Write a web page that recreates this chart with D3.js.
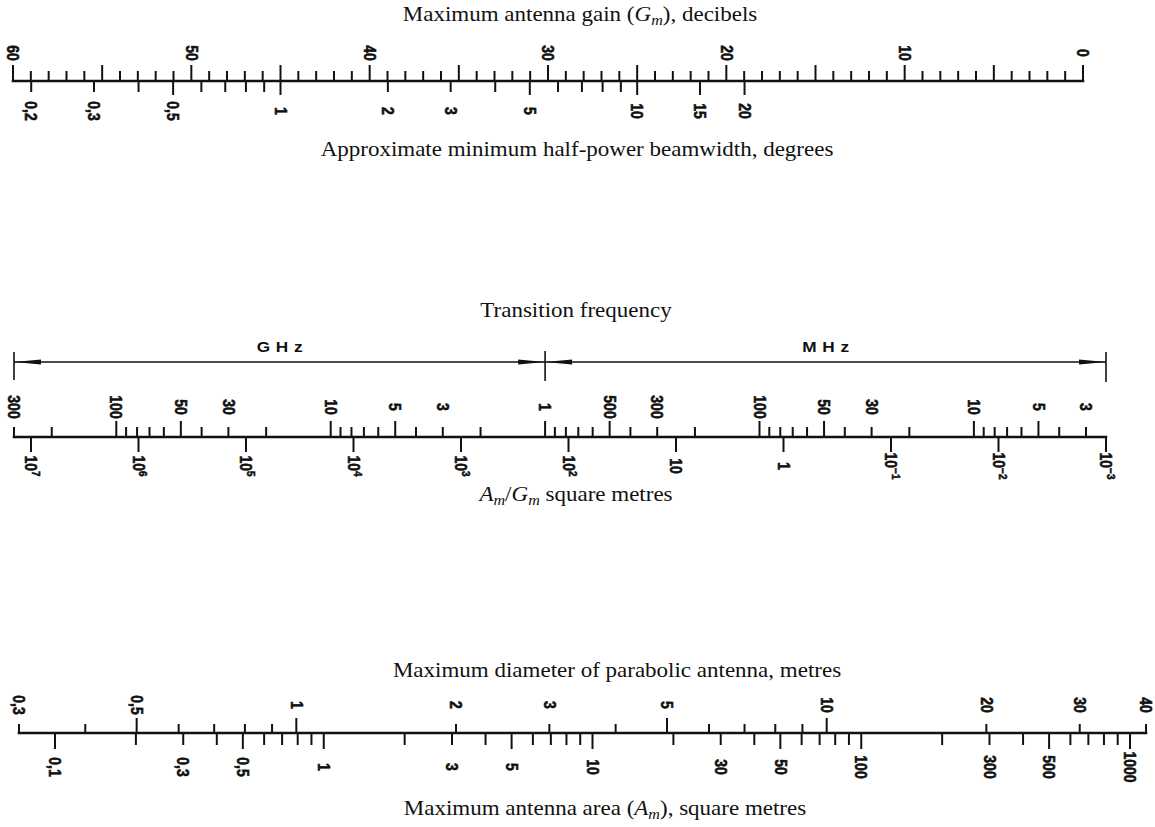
<!DOCTYPE html>
<html>
<head>
<meta charset="utf-8">
<script src="https://cdn.jsdelivr.net/npm/d3@7"></script>
<style>
  html, body { margin: 0; padding: 0; background: #fff; }
  svg { display: block; }
  .title { font-family: "Liberation Serif", "Times New Roman", serif; font-size: 20px; fill: #111; }
  .num { font-family: "Liberation Sans", Arial, sans-serif; font-weight: bold; font-size: 14px; fill: #111;
         stroke: #111; stroke-width: 0.5px; }
  .unit { font-family: "Liberation Sans", Arial, sans-serif; font-weight: bold; font-size: 15px; fill: #111; letter-spacing: 5px; }
</style>
</head>
<body>
<script>
// ---- Scale 1: maximum antenna gain (dB) against half-power beamwidth (degrees)
const gainLabels = [60, 50, 40, 30, 20, 10, 0];
const gainMajorStep = 5;
const beamTicks = [0.2, 0.3, 0.4, 0.5, 0.6, 0.7, 0.8, 0.9, 1, 2, 3, 4, 5, 6, 7, 8, 9, 10, 15, 20];
const beamLong = [0.5, 1, 5, 10, 15, 20];
const beamLabels = [0.2, 0.3, 0.5, 1, 2, 3, 5, 10, 15, 20];
const beamGainAt1deg = 45;   // G = 45 - 20 log10(beamwidth)

// ---- Scale 2: transition frequency (MHz) against Am/Gm (m^2)
const freqMultipliers = [1, 2, 3, 4, 5, 6, 7, 8, 9];
const freqDecades = [100000, 10000, 1000, 100, 10, 1];
const freqLong = [1, 5];
const freqLabels = [300000, 100000, 50000, 30000, 10000, 5000, 3000, 1000,
                    500, 300, 100, 50, 30, 10, 5, 3];
const ratioExponents = [7, 6, 5, 4, 3, 2, 1, 0, -1, -2, -3];

// ---- Scale 3: parabolic antenna diameter (m) against antenna area (m^2)
const diameterTicks = [0.3, 0.4, 0.5, 0.6, 0.7, 0.8, 0.9, 1, 2, 3, 4, 5, 6, 7, 8, 9, 10, 20, 30, 40];
const diameterLong = [0.5, 1, 5, 10];
const diameterLabels = [0.3, 0.5, 1, 2, 3, 5, 10, 20, 30, 40];
const areaMultipliers = [1, 2, 3, 4, 5, 6, 7, 8, 9];
const areaDecades = [0.1, 1, 10, 100];
const areaLong = [1, 5];
const areaLabels = [0.1, 0.3, 0.5, 1, 3, 5, 10, 30, 50, 100, 300, 500, 1000];

const W = 1155, H = 827;
const SX = 1.15;            // horizontal stretch of the printed lettering

const svg = d3.select("body").append("svg")
  .attr("width", W).attr("height", H)
  .attr("viewBox", `0 0 ${W} ${H}`);

const ink = "#111";
const fmt = v => String(v).replace(".", ",");
const near = (a, b) => Math.abs(a - b) < 1e-9 * Math.max(1, Math.abs(b));

function title(cx, y, parts) {
  const t = svg.append("text").attr("class", "title")
    .attr("text-anchor", "middle")
    .attr("transform", `translate(${cx},${y}) scale(${SX},1)`);
  parts.forEach(p => {
    const s = t.append("tspan").text(p.t);
    if (p.i) s.attr("font-style", "italic");
    if (p.sub) s.attr("font-size", "14px").attr("dy", 4);
    if (p.up) s.attr("dy", -4);
  });
  return t;
}

// rotated numeric label, centred at (x, yc), reading downwards
function vlabel(x, yc, parts) {
  const t = svg.append("text").attr("class", "num")
    .attr("text-anchor", "middle")
    .attr("dy", "0.36em")
    .attr("transform", `translate(${x},${yc}) scale(${SX},1) rotate(90)`);
  parts.forEach(p => {
    const s = t.append("tspan").text(p.t);
    if (p.sup) s.attr("font-size", "10px").attr("dy", "-0.55em");
  });
}

function baseline(y, x0, x1) {
  svg.append("line").attr("x1", x0).attr("x2", x1).attr("y1", y).attr("y2", y)
    .attr("stroke", ink).attr("stroke-width", 2.6).attr("stroke-linecap", "square");
}

function ticks(scale, values, y, lenFn, dir) {
  svg.append("g").selectAll("line").data(values).join("line")
    .attr("x1", d => scale(d)).attr("x2", d => scale(d))
    .attr("y1", y).attr("y2", d => y + dir * lenFn(d))
    .attr("stroke", ink).attr("stroke-width", 2);
}

// =================== Scale 1 ===================
const y1 = 81;
const gain = d3.scaleLinear().domain([60, 0]).range([13, 1083]);
const beam = d3.scaleLog().domain([1, 10])
  .range([gain(beamGainAt1deg), gain(beamGainAt1deg - 20)]);

title(580, 21, [{t: "Maximum antenna gain ("}, {t: "G", i: true}, {t: "m", i: true, sub: true},
                {t: "), decibels", up: true}]);
baseline(y1, gain(60), gain(0));
ticks(gain, d3.range(0, 61), y1, d => d % gainMajorStep === 0 ? 16 : 10, -1);
ticks(beam, beamTicks, y1, d => beamLong.some(v => near(v, d)) ? 14 : 11, 1);
gainLabels.forEach(v => vlabel(gain(v), 53, [{t: fmt(v)}]));
beamLabels.forEach(v => vlabel(beam(v), 111, [{t: fmt(v)}]));
title(577, 156, [{t: "Approximate minimum half-power beamwidth, degrees"}]);

// =================== Scale 2 ===================
const y2 = 437;
const freq = d3.scaleLog().domain([300000, 3]).range([14, 1086]);
const ratio = d3.scaleLog().domain([1e7, 1e-3]).range([31, 1106]);
const [fMax, fMin] = freq.domain();
const freqTicks = freqDecades.flatMap(d => freqMultipliers.map(m => m * d))
  .filter(v => v <= fMax * 1.0001 && v >= fMin * 0.9999);
const fLong = v => freqLong.some(m => freqDecades.some(d => near(m * d, v)));

title(576, 317, [{t: "Transition frequency"}]);

// GHz / MHz range arrows
const ya = 362;
const xL = freq(fMax), xMid = freq(1000), xR = ratio(1e-3);
svg.append("line").attr("x1", xL).attr("x2", xR).attr("y1", ya).attr("y2", ya)
  .attr("stroke", ink).attr("stroke-width", 1.6);
[[xL, 352, 380], [xMid, 351, 381], [xR, 352, 382]].forEach(([x, a, b]) =>
  svg.append("line").attr("x1", x).attr("x2", x).attr("y1", a).attr("y2", b)
    .attr("stroke", ink).attr("stroke-width", 1.6));
function arrowHead(tip, dir) {
  const len = 27, hw = 2.6;
  const base = tip + dir * len;
  svg.append("path")
    .attr("d", `M${tip},${ya} L${base},${ya - hw} L${base},${ya + hw} Z`)
    .attr("fill", ink);
}
arrowHead(xL, 1); arrowHead(xMid, -1); arrowHead(xMid, 1); arrowHead(xR, -1);
svg.append("text").attr("class", "unit").attr("text-anchor", "middle")
  .attr("transform", `translate(${(xL + xMid) / 2 + 3},${352}) scale(${SX},1)`).text("GHz");
svg.append("text").attr("class", "unit").attr("text-anchor", "middle")
  .attr("transform", `translate(${(xMid + xR) / 2 + 3},${352}) scale(${SX},1)`).text("MHz");

baseline(y2, freq(fMax), ratio(1e-3));
ticks(freq, freqTicks, y2, d => fLong(d) ? 16 : 10, -1);
ticks(ratio, ratioExponents.map(e => Math.pow(10, e)), y2, () => 15, 1);
freqLabels.forEach(v => vlabel(freq(v), 407, [{t: String(v >= 1000 ? v / 1000 : v)}]));
ratioExponents.forEach(e => {
  const parts = e === 0 ? [{t: "1"}] : e === 1 ? [{t: "10"}] :
    [{t: "10"}, {t: e < 0 ? "\u2212" + (-e) : String(e), sup: true}];
  vlabel(ratio(Math.pow(10, e)), 466, parts);
});
title(576, 501, [{t: "A", i: true}, {t: "m", i: true, sub: true}, {t: "/", up: true},
                 {t: "G", i: true}, {t: "m", i: true, sub: true}, {t: " square metres", up: true}]);

// =================== Scale 3 ===================
const y3 = 733;
const diameter = d3.scaleLog().domain([0.3, 40]).range([19, 1146]);
const area = d3.scaleLog().domain([0.1, 1000]).range([55, 1130]);
const areaTicks = areaDecades.flatMap(d => areaMultipliers.map(m => +(m * d).toPrecision(6)))
  .concat([1000]);
const aLong = v => areaLong.some(m => areaDecades.concat([1000]).some(d => near(m * d, v)));

title(617, 677, [{t: "Maximum diameter of parabolic antenna, metres"}]);
baseline(y3, diameter(0.3), diameter(40));
ticks(diameter, diameterTicks, y3, d => diameterLong.some(v => near(v, d)) ? 15 : 9, -1);
ticks(area, areaTicks, y3, d => aLong(d) ? 16 : 12, 1);
diameterLabels.forEach(v => vlabel(diameter(v), 705, [{t: fmt(v)}]));
areaLabels.forEach(v => vlabel(area(v), 767, [{t: fmt(v)}]));
title(605, 815, [{t: "Maximum antenna area ("}, {t: "A", i: true}, {t: "m", i: true, sub: true},
                 {t: "), square metres", up: true}]);
</script>
</body>
</html>
